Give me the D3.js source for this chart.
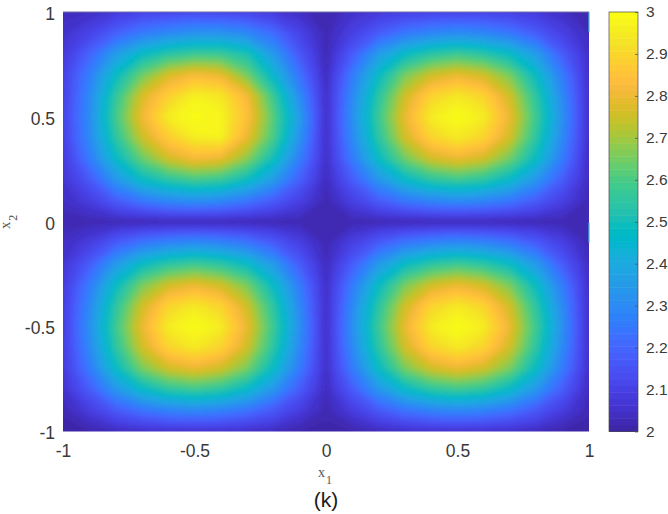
<!DOCTYPE html>
<html>
<head>
<meta charset="utf-8">
<script src="https://cdn.jsdelivr.net/npm/d3@7"></script>
<style>
    html, body { margin: 0; padding: 0; background: #fff; }
    svg { display: block; }
    text { font-family: "Liberation Sans", Arial, sans-serif; fill: #3a3a3a; }
    text.small { font-family: "Liberation Serif", "Times New Roman", serif; fill: #555; }
</style>
</head>
<body>
<svg id="chart" width="668" height="514"></svg>
<script>
// grid positions of the field, read every 0.1
const gridX = [-1, -0.9, -0.8, -0.7, -0.6, -0.5, -0.4, -0.3, -0.2, -0.1, 0, 0.1, 0.2, 0.3, 0.4, 0.5, 0.6, 0.7, 0.8, 0.9, 1];
const gridY = [1, 0.9, 0.8, 0.7, 0.6, 0.5, 0.4, 0.3, 0.2, 0.1, 0, -0.1, -0.2, -0.3, -0.4, -0.5, -0.6, -0.7, -0.8, -0.9, -1];

// one row per gridY, values
const rows = [
    [2.04,2.05,2.08,2.11,2.12,2.13,2.12,2.11,2.08,2.05,2.02,2.06,2.08,2.10,2.11,2.11,2.11,2.10,2.08,2.05,2.02],
    [2.06,2.11,2.19,2.26,2.30,2.33,2.33,2.30,2.22,2.11,2.03,2.10,2.18,2.25,2.29,2.31,2.29,2.25,2.18,2.10,2.04],
    [2.08,2.20,2.36,2.48,2.55,2.58,2.58,2.52,2.35,2.17,2.03,2.18,2.36,2.48,2.55,2.58,2.55,2.48,2.36,2.18,2.05],
    [2.10,2.27,2.48,2.65,2.77,2.83,2.80,2.66,2.46,2.24,2.04,2.26,2.48,2.66,2.76,2.80,2.76,2.66,2.48,2.26,2.05],
    [2.10,2.30,2.56,2.77,2.89,2.97,2.95,2.82,2.58,2.31,2.05,2.30,2.55,2.76,2.90,2.95,2.90,2.76,2.55,2.30,2.05],
    [2.11,2.31,2.59,2.81,2.96,3.00,2.98,2.85,2.62,2.36,2.05,2.32,2.58,2.80,2.96,3.00,2.96,2.80,2.58,2.32,2.05],
    [2.10,2.30,2.55,2.75,2.88,2.96,2.97,2.80,2.60,2.33,2.05,2.30,2.55,2.76,2.90,2.95,2.90,2.76,2.55,2.30,2.05],
    [2.08,2.26,2.47,2.64,2.76,2.82,2.80,2.68,2.50,2.27,2.05,2.26,2.48,2.65,2.76,2.80,2.76,2.65,2.48,2.26,2.04],
    [2.07,2.17,2.34,2.48,2.55,2.59,2.57,2.49,2.36,2.19,2.04,2.18,2.34,2.47,2.55,2.58,2.55,2.47,2.34,2.18,2.04],
    [2.05,2.09,2.18,2.25,2.30,2.32,2.30,2.25,2.18,2.10,2.03,2.10,2.18,2.25,2.29,2.31,2.29,2.25,2.18,2.10,2.03],
    [2.03,2.03,2.03,2.03,2.03,2.03,2.03,2.03,2.03,2.03,2.02,2.03,2.03,2.03,2.03,2.03,2.03,2.03,2.03,2.03,2.03],
    [2.05,2.09,2.18,2.25,2.29,2.31,2.29,2.25,2.18,2.10,2.03,2.10,2.18,2.25,2.29,2.31,2.29,2.25,2.18,2.10,2.03],
    [2.07,2.18,2.35,2.48,2.55,2.58,2.55,2.48,2.35,2.18,2.04,2.18,2.35,2.48,2.55,2.58,2.55,2.48,2.35,2.18,2.04],
    [2.08,2.26,2.48,2.66,2.76,2.80,2.76,2.66,2.48,2.26,2.05,2.26,2.48,2.66,2.76,2.80,2.76,2.66,2.48,2.26,2.05],
    [2.09,2.30,2.55,2.76,2.90,2.95,2.90,2.76,2.55,2.30,2.05,2.30,2.55,2.76,2.90,2.95,2.90,2.76,2.55,2.30,2.05],
    [2.09,2.32,2.58,2.80,2.96,3.00,2.96,2.80,2.58,2.32,2.05,2.32,2.58,2.80,2.96,3.00,2.96,2.80,2.58,2.32,2.05],
    [2.09,2.30,2.55,2.76,2.90,2.95,2.90,2.76,2.55,2.30,2.05,2.30,2.55,2.76,2.90,2.95,2.90,2.76,2.55,2.30,2.05],
    [2.08,2.26,2.48,2.66,2.76,2.80,2.76,2.66,2.48,2.26,2.05,2.26,2.48,2.66,2.76,2.80,2.76,2.66,2.48,2.26,2.05],
    [2.06,2.18,2.34,2.47,2.55,2.58,2.55,2.47,2.34,2.18,2.04,2.18,2.34,2.47,2.55,2.58,2.55,2.47,2.34,2.18,2.04],
    [2.03,2.09,2.17,2.24,2.28,2.30,2.28,2.24,2.17,2.09,2.03,2.09,2.17,2.24,2.28,2.30,2.28,2.24,2.17,2.09,2.03],
    [2.00,2.02,2.04,2.05,2.06,2.06,2.06,2.05,2.04,2.02,2.01,2.02,2.04,2.05,2.06,2.06,2.06,2.05,2.04,2.02,2.00]
];

const xTicks = [-1, -0.5, 0, 0.5, 1];
const yTicks = [-1, -0.5, 0, 0.5, 1];
const barTicks = [2, 2.1, 2.2, 2.3, 2.4, 2.5, 2.6, 2.7, 2.8, 2.9, 3];

// x2 ranges where the right edge of the field shows a cyan sliver
const edgeSlivers = [[0.905, 1], [-0.1, -0.005]];

// parula
const parula = [
    [0.2422,0.1504,0.6603],[0.2504,0.1650,0.7076],[0.2578,0.1818,0.7511],[0.2647,0.1978,0.7952],
    [0.2706,0.2147,0.8364],[0.2751,0.2342,0.8710],[0.2783,0.2559,0.8991],[0.2803,0.2782,0.9221],
    [0.2813,0.3006,0.9414],[0.2810,0.3228,0.9579],[0.2795,0.3447,0.9717],[0.2760,0.3667,0.9829],
    [0.2699,0.3892,0.9906],[0.2602,0.4123,0.9952],[0.2440,0.4358,0.9988],[0.2206,0.4603,0.9973],
    [0.1963,0.4847,0.9892],[0.1834,0.5074,0.9798],[0.1786,0.5289,0.9682],[0.1764,0.5499,0.9520],
    [0.1687,0.5703,0.9359],[0.1540,0.5902,0.9218],[0.1460,0.6091,0.9079],[0.1380,0.6276,0.8973],
    [0.1248,0.6459,0.8883],[0.1113,0.6635,0.8763],[0.0952,0.6798,0.8598],[0.0689,0.6948,0.8394],
    [0.0297,0.7082,0.8163],[0.0036,0.7203,0.7917],[0.0067,0.7312,0.7660],[0.0433,0.7411,0.7394],
    [0.0964,0.7500,0.7120],[0.1408,0.7584,0.6842],[0.1717,0.7670,0.6554],[0.1938,0.7758,0.6251],
    [0.2161,0.7843,0.5923],[0.2470,0.7918,0.5567],[0.2906,0.7973,0.5188],[0.3406,0.8008,0.4789],
    [0.3909,0.8029,0.4354],[0.4456,0.8024,0.3909],[0.5044,0.7993,0.3480],[0.5616,0.7942,0.3045],
    [0.6174,0.7876,0.2612],[0.6720,0.7793,0.2227],[0.7242,0.7698,0.1910],[0.7738,0.7598,0.1646],
    [0.8203,0.7498,0.1535],[0.8634,0.7406,0.1596],[0.9035,0.7330,0.1774],[0.9393,0.7288,0.2100],
    [0.9728,0.7298,0.2394],[0.9956,0.7434,0.2371],[0.9970,0.7659,0.2199],[0.9952,0.7893,0.2028],
    [0.9892,0.8136,0.1885],[0.9786,0.8386,0.1766],[0.9676,0.8639,0.1643],[0.9610,0.8890,0.1537],
    [0.9597,0.9135,0.1423],[0.9628,0.9373,0.1265],[0.9691,0.9606,0.1064],[0.9769,0.9839,0.0805]
].map(c => d3.rgb(c[0] * 255, c[1] * 255, c[2] * 255).formatHex());

const plot = { left: 63, right: 589, top: 12, bottom: 431.5 };
const bar = { left: 609, right: 638 };

const svg = d3.select("#chart");

const x = d3.scaleLinear().domain([-1, 1]).range([plot.left, plot.right]);
const y = d3.scaleLinear().domain([-1, 1]).range([plot.bottom, plot.top]);
const c = d3.scaleLinear().domain([2, 3]).range([plot.bottom, plot.top]);
const color = d3.scaleQuantize().domain([2, 3]).range(parula);

// index space of d3.contours -> pixels (cell centres sit at i + 0.5)
const ix = d3.scaleLinear().domain([0.5, gridX.length - 0.5]).range([x(gridX[0]), x(gridX[gridX.length - 1])]);
const iy = d3.scaleLinear().domain([0.5, gridY.length - 0.5]).range([y(gridY[0]), y(gridY[gridY.length - 1])]);

const defs = svg.append("defs");
defs.append("clipPath").attr("id", "plotClip")
    .append("rect")
    .attr("x", plot.left).attr("y", plot.top)
    .attr("width", plot.right - plot.left).attr("height", plot.bottom - plot.top);
defs.append("filter").attr("id", "soft")
    .attr("filterUnits", "userSpaceOnUse")
    .attr("x", 0).attr("y", 0).attr("width", 668).attr("height", 514)
    .append("feGaussianBlur").attr("stdDeviation", 2.5);

const thresholds = d3.range(2, 3.0001, 0.01);
const contours = d3.contours()
    .size([gridX.length, gridY.length])
    .thresholds(thresholds)(rows.flat());

const path = d3.geoPath().projection(d3.geoTransform({
    point: function (px, py) { this.stream.point(ix(px), iy(py)); }
}));

svg.append("g").attr("clip-path", "url(#plotClip)")
    .append("g").attr("filter", "url(#soft)")
    .selectAll("path")
    .data(contours)
    .join("path")
    .attr("d", path)
    .attr("fill", d => color(Math.min(d.value, 2.999)));

// thin top line and right edge slivers
svg.append("line")
    .attr("x1", plot.left).attr("x2", plot.right)
    .attr("y1", plot.top).attr("y2", plot.top)
    .attr("stroke", "#6f6fa8").attr("stroke-width", 1);
svg.append("g").selectAll("line")
    .data(edgeSlivers)
    .join("line")
    .attr("x1", plot.right).attr("x2", plot.right)
    .attr("y1", d => y(d[1])).attr("y2", d => y(d[0]))
    .attr("stroke", "#45b4dc").attr("stroke-width", 1.2);

// axes
const xAxis = svg.append("g")
    .attr("transform", `translate(0,${plot.bottom})`)
    .call(d3.axisBottom(x).tickValues(xTicks).tickSize(0).tickPadding(13.5).tickFormat(d => String(d)));
const yAxis = svg.append("g")
    .attr("transform", `translate(${plot.left},0)`)
    .call(d3.axisLeft(y).tickValues(yTicks).tickSize(0).tickPadding(8).tickFormat(d => String(d)));
[xAxis, yAxis].forEach(a => {
    a.select(".domain").remove();
    a.attr("font-family", null).attr("font-size", null);
    a.selectAll("text").style("font-size", "17.5px");
});
yAxis.selectAll("text").attr("dy", "0.42em");

// colorbar
const step = 1 / parula.length;
svg.append("g").selectAll("rect")
    .data(parula)
    .join("rect")
    .attr("x", bar.left)
    .attr("width", bar.right - bar.left)
    .attr("y", (d, i) => c(2 + (i + 1) * step))
    .attr("height", (d, i) => c(2 + i * step) - c(2 + (i + 1) * step) + 0.5)
    .attr("fill", d => d);
svg.append("rect")
    .attr("x", bar.left).attr("y", plot.top)
    .attr("width", bar.right - bar.left).attr("height", plot.bottom - plot.top)
    .attr("fill", "none").attr("stroke", "#4a4a4a").attr("stroke-width", 0.7);

const barAxis = svg.append("g")
    .attr("transform", `translate(${bar.right},0)`)
    .call(d3.axisRight(c).tickValues(barTicks).tickSize(-3).tickPadding(8).tickFormat(d => String(d)));
barAxis.select(".domain").remove();
barAxis.attr("font-family", null).attr("font-size", null);
barAxis.selectAll("line").attr("stroke", "#4a4a4a").attr("stroke-width", 0.7);
barAxis.selectAll("text").style("font-size", "15.5px");

// labels
function subLabel(g, main, sub) {
    g.append("tspan").text(main).style("font-size", "14px");
    g.append("tspan").text(sub).attr("dx", 1).attr("dy", 7).style("font-size", "12px");
}
const xLabel = svg.append("text").attr("class", "small")
    .attr("x", 325).attr("y", 477).attr("text-anchor", "middle");
subLabel(xLabel, "x", "1");
const yLabel = svg.append("text").attr("class", "small")
    .attr("transform", `translate(10,${y(0)}) rotate(-90)`).attr("text-anchor", "middle");
subLabel(yLabel, "x", "2");

svg.append("text")
    .attr("x", 326).attr("y", 507).attr("text-anchor", "middle")
    .style("font-size", "21px").style("fill", "#1a1a1a")
    .text("(k)");
</script>
</body>
</html>
